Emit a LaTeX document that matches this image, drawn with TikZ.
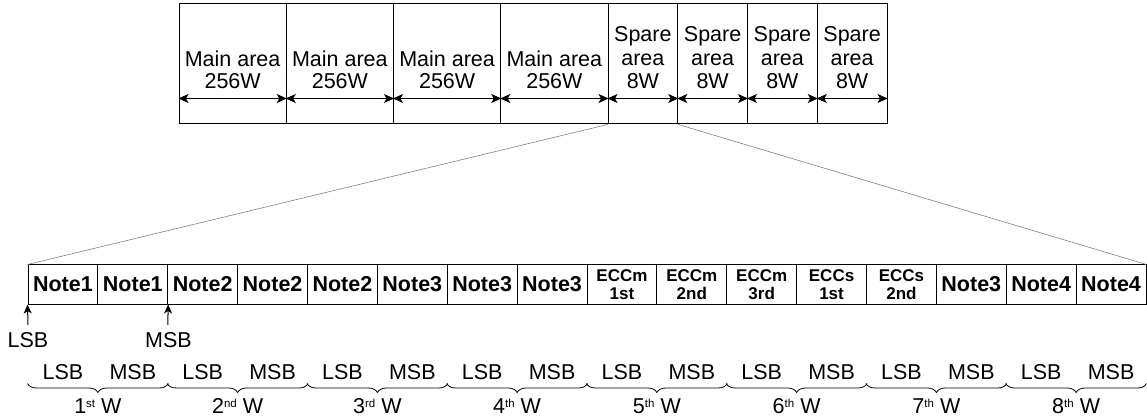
\documentclass[tikz,border=0pt]{standalone}
\usepackage{fontspec}
\setmainfont{Liberation Sans}
\usetikzlibrary{arrows.meta,decorations.pathreplacing,calc}
\newcommand\bigfont{\fontsize{21.5}{23}\selectfont}
\newcommand\notefont{\fontsize{21.5}{23}\selectfont\bfseries}
\newcommand\eccfont{\fontsize{17}{18}\selectfont\bfseries}
\newcommand\ordsup[1]{\raisebox{6.5pt}{\fontsize{11.5}{12}\selectfont #1}}
\tikzset{
  mainbox/.style={draw, line width=1pt, inner sep=0pt, minimum width=107.25, minimum height=120},
  sparebox/.style={draw, line width=1pt, inner sep=0pt, minimum width=69.75, minimum height=120},
  cellbox/.style={draw, line width=1pt, inner sep=0pt, minimum width=69.875, minimum height=39},
  toptext/.style={inner sep=0pt, anchor=base, font=\bigfont},
  notetext/.style={inner sep=0pt, anchor=base, font=\notefont},
  ecctext/.style={inner sep=0pt, anchor=base, font=\eccfont},
  lbl/.style={inner sep=0pt, anchor=base, font=\bigfont},
  dimarrow/.style={line width=1pt, {Stealth[length=10pt,width=9pt,inset=2.5pt]}-{Stealth[length=10pt,width=9pt,inset=2.5pt]}},
  ptr/.style={line width=1pt, -{Stealth[length=9pt,width=8pt,inset=2.5pt]}},
  zoomline/.style={draw=gray, line width=0.6pt},
  wordbrace/.style={line width=0.8pt, decorate, decoration={brace, amplitude=9pt, mirror}}
}
\begin{document}
\begin{tikzpicture}[x=1pt,y=-1pt]
\useasboundingbox (0,0) rectangle (1147,419);
% top row
\foreach \i in {1,...,4} {
  \node[mainbox] (m\i) at ({179+107.25*(\i-0.5)},64) {};
  \node[toptext] (mta\i) at ({179+107.25*(\i-0.5)},67) {Main area};
  \node[toptext] (mtb\i) at ({179+107.25*(\i-0.5)},89) {256W};
  \draw[dimarrow] ($(m\i.south west)+(0,-26)$) -- ($(m\i.south east)+(0,-26)$);
}
\foreach \i in {1,...,4} {
  \node[sparebox] (s\i) at ({608+69.75*(\i-0.5)},64) {};
  \node[toptext] (sta\i) at ({608+69.75*(\i-0.5)},42) {Spare};
  \node[toptext] (stb\i) at ({608+69.75*(\i-0.5)},65.5) {area};
  \node[toptext] (stc\i) at ({608+69.75*(\i-0.5)},88.5) {8W};
  \draw[dimarrow] ($(s\i.south west)+(0,-26)$) -- ($(s\i.south east)+(0,-26)$);
}
% bottom row
\foreach \i/\t in {1/Note1,2/Note1,3/Note2,4/Note2,5/Note2,6/Note3,7/Note3,8/Note3,14/Note3,15/Note4,16/Note4} {
  \node[cellbox] (b\i) at ({28+69.875*(\i-0.5)},284.5) {};
  \node[notetext] (bt\i) at ({28+69.875*(\i-0.5)},291.5) {\t};
}
\foreach \i/\ta/\tb in {9/ECCm/1st,10/ECCm/2nd,11/ECCm/3rd,12/ECCs/1st,13/ECCs/2nd} {
  \node[cellbox] (b\i) at ({28+69.875*(\i-0.5)},284.5) {};
  \node[ecctext] (bta\i) at ({28+69.875*(\i-0.5)},282) {\ta};
  \node[ecctext] (btb\i) at ({28+69.875*(\i-0.5)},299.5) {\tb};
}
% zoom lines
\draw[zoomline] (s1.south west) -- (b1.north west);
\draw[zoomline] (s1.south east) -- (b16.north east);
% LSB / MSB pointers
\node[lbl] (plsb) at (28,347) {LSB};
\node[lbl] (pmsb) at (168.5,347) {MSB};
\coordinate (plsbt) at (28,325);
\coordinate (pmsbt) at (167.75,325);
\draw[ptr] (plsbt) -- (b1.south west);
\draw[ptr] (pmsbt) -- (b2.south east);
% byte labels
\foreach \i in {1,3,5,7,9,11,13,15} {
  \node[lbl] (bl\i) at ({28+69.875*(\i-0.5)},379) {LSB};
}
\foreach \i in {2,4,6,8,10,12,14,16} {
  \node[lbl] (bl\i) at ({28+69.875*(\i-0.5)},379) {MSB};
}
% braces and word labels
\foreach \j/\s in {1/st,2/nd,3/rd,4/th,5/th,6/th,7/th,8/th} {
  \pgfmathtruncatemacro{\ka}{2*\j-1}
  \pgfmathtruncatemacro{\kb}{2*\j}
  \draw[wordbrace] ($(b\ka.south west)+(0,79)$) -- ($(b\kb.south east)+(0,79)$);
  \node[lbl] (w\j) at ({28+139.75*(\j-0.5)},413.5) {\j\ordsup{\s} W};
}
\end{tikzpicture}
\end{document}
